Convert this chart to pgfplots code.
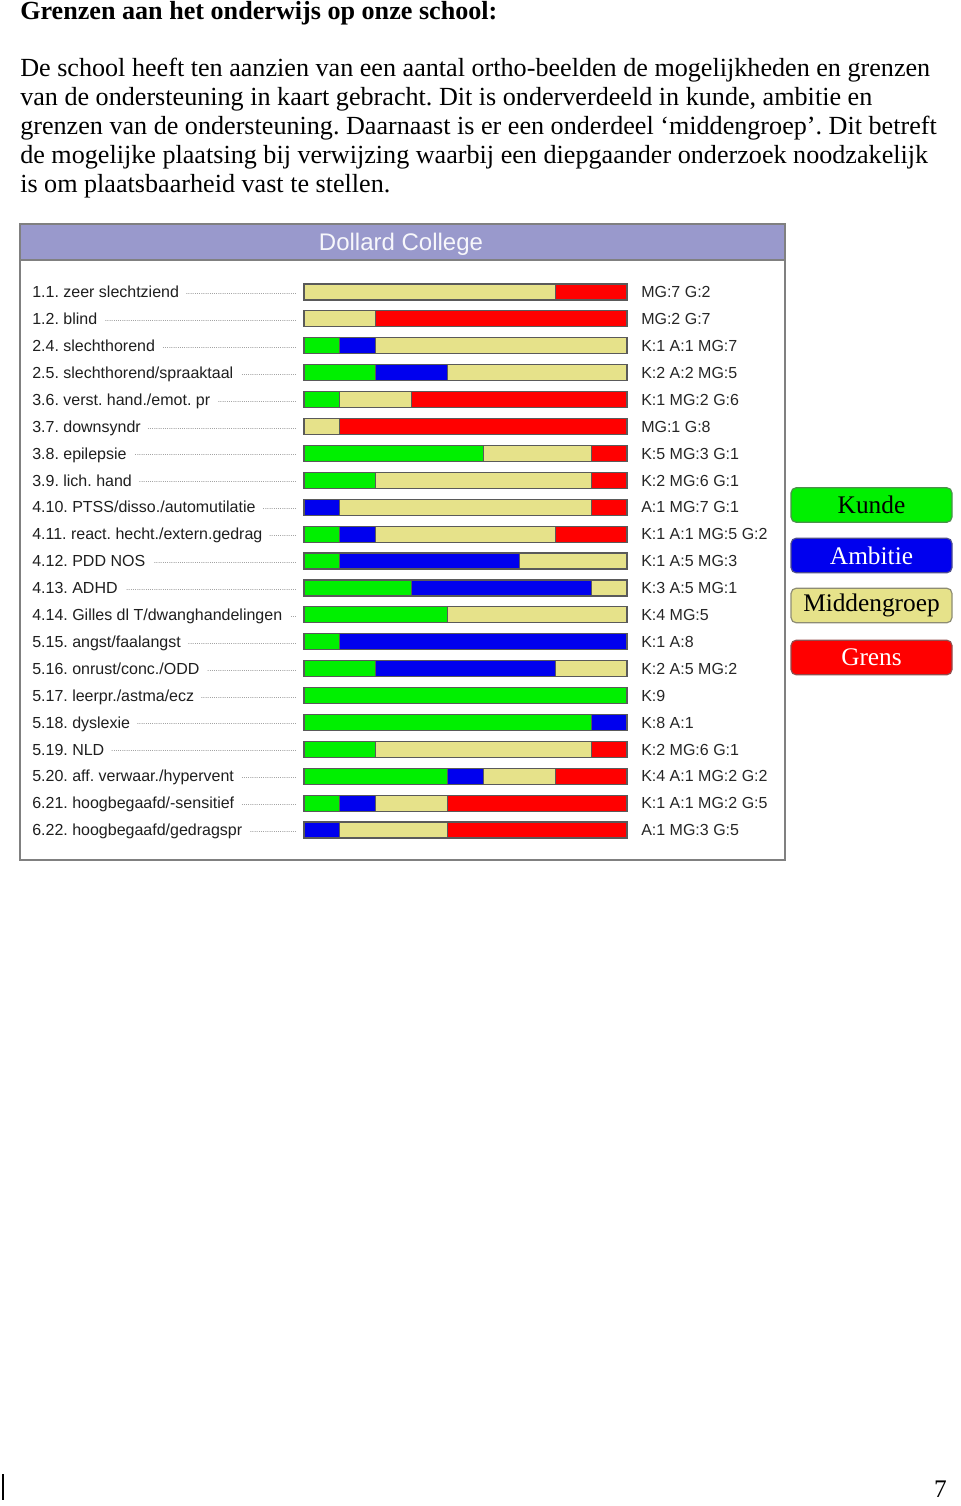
\documentclass[border=0pt]{standalone}
\usepackage{fontspec}
\setmainfont{Liberation Serif}
\newfontfamily\arial{Liberation Sans}
\usepackage{pgfplots}
\pgfplotsset{compat=1.18}
\usepackage{pgfplotstable}
\frenchspacing

\definecolor{kunde}{RGB}{0,240,0}
\definecolor{ambitie}{RGB}{0,0,238}
\definecolor{midden}{RGB}{230,226,138}
\definecolor{grens}{RGB}{255,0,0}
\definecolor{outl}{RGB}{90,90,90}
\definecolor{titlebar}{RGB}{153,153,204}
\definecolor{framec}{RGB}{128,128,128}

\pgfplotstableread{
row K A MG G
0  0 0 7 2
1  0 0 2 7
2  1 1 7 0
3  2 2 5 0
4  1 0 2 6
5  0 0 1 8
6  5 0 3 1
7  2 0 6 1
8  0 1 7 1
9  1 1 5 2
10 1 5 3 0
11 3 5 1 0
12 4 0 5 0
13 1 8 0 0
14 2 5 2 0
15 9 0 0 0
16 8 1 0 0
17 2 0 6 1
18 4 1 2 2
19 1 1 2 5
20 0 1 3 5
}\data

\newcommand{\lbl}[1]{\hbox to 199.5pt{#1\hskip 5pt\leaders\hbox to 1.6pt{\hss\raisebox{2.4pt}{\color{black!55}\fontsize{6}{6}\selectfont.}\hss}\hfill}}

\begin{document}
\begin{tikzpicture}[x=0.75pt,y=-0.75pt]
\useasboundingbox (0,0) rectangle (960,1506);

% heading and paragraph
\node[anchor=base west, inner sep=0pt, font=\fontsize{19.6}{22}\selectfont\bfseries] at (20,19) {Grenzen aan het onderwijs op onze school:};
\begin{scope}[every node/.style={anchor=base west, inner sep=0pt, font=\fontsize{19.6}{22}\selectfont}]
\node at (20,76) {De school heeft ten aanzien van een aantal ortho-beelden de mogelijkheden en grenzen};
\node at (20,105) {van de ondersteuning in kaart gebracht. Dit is onderverdeeld in kunde, ambitie en};
\node at (20,134) {grenzen van de ondersteuning. Daarnaast is er een onderdeel ‘middengroep’. Dit betreft};
\node at (20,163) {de mogelijke plaatsing bij verwijzing waarbij een diepgaander onderzoek noodzakelijk};
\node at (20,192) {is om plaatsbaarheid vast te stellen.};
\end{scope}

% chart frame
\fill[white] (20,224) rectangle (785,860);
\fill[titlebar] (20,224) rectangle (785,260);
\draw[framec, line width=1.2pt] (20,260) -- (785,260);
\draw[framec, line width=1.5pt] (20,224) rectangle (785,860);
\node[font=\arial\fontsize{18}{20}\selectfont, text=white!92!titlebar, inner sep=0pt] at (401,244) {Dollard College};

\coordinate (A) at (304,278.5);

\begin{axis}[
  at={(A)}, anchor=north west,
  scale only axis, width=242.25pt, height=423.75pt,
  xmin=0, xmax=9, ymin=-0.5, ymax=20.5, y dir=reverse,
  xbar stacked, bar width=12pt,
  axis line style={draw=none}, xtick=\empty,
  ytick={0,...,20}, major tick length=0pt,
  yticklabels={
    \lbl{1.1. zeer slechtziend},
    \lbl{1.2. blind},
    \lbl{2.4. slechthorend},
    \lbl{2.5. slechthorend/spraaktaal},
    \lbl{3.6. verst. hand./emot. pr},
    \lbl{3.7. downsyndr},
    \lbl{3.8. epilepsie},
    \lbl{3.9. lich. hand},
    \lbl{4.10. PTSS/disso./automutilatie},
    \lbl{4.11. react. hecht./extern.gedrag},
    \lbl{4.12. PDD NOS},
    \lbl{4.13. ADHD},
    \lbl{4.14. Gilles dl T/dwanghandelingen},
    \lbl{5.15. angst/faalangst},
    \lbl{5.16. onrust/conc./ODD},
    \lbl{5.17. leerpr./astma/ecz},
    \lbl{5.18. dyslexie},
    \lbl{5.19. NLD},
    \lbl{5.20. aff. verwaar./hypervent},
    \lbl{6.21. hoogbegaafd/-sensitief},
    \lbl{6.22. hoogbegaafd/gedragspr}},
  yticklabel style={anchor=west, inner sep=0pt, xshift=-204pt,
    font=\arial\fontsize{12}{14}\selectfont, text=black!88, text height=8.6pt, text depth=0pt},
  clip=false,
]
\addplot[fill=kunde, draw=outl, line width=0.9pt] table[x=K, y=row]{\data};
\addplot[fill=ambitie, draw=outl, line width=0.9pt] table[x=A, y=row]{\data};
\addplot[fill=midden, draw=outl, line width=0.9pt] table[x=MG, y=row]{\data};
\addplot[fill=grens, draw=outl, line width=0.9pt] table[x=G, y=row]{\data};
\end{axis}

\begin{axis}[
  at={(A)}, anchor=north west,
  scale only axis, width=242.25pt, height=423.75pt,
  xmin=0, xmax=9, ymin=-0.5, ymax=20.5, y dir=reverse,
  axis line style={draw=none}, xtick=\empty,
  ytick={0,...,20}, major tick length=0pt, yticklabel pos=right,
  yticklabels={MG:7 G:2, MG:2 G:7, K:1 A:1 MG:7, K:2 A:2 MG:5, K:1 MG:2 G:6,
    MG:1 G:8, K:5 MG:3 G:1, K:2 MG:6 G:1, A:1 MG:7 G:1, K:1 A:1 MG:5 G:2,
    K:1 A:5 MG:3, K:3 A:5 MG:1, K:4 MG:5, K:1 A:8, K:2 A:5 MG:2, K:9,
    K:8 A:1, K:2 MG:6 G:1, K:4 A:1 MG:2 G:2, K:1 A:1 MG:2 G:5, A:1 MG:3 G:5},
  yticklabel style={anchor=west, inner sep=0pt, xshift=10.5pt,
    font=\arial\fontsize{12}{14}\selectfont, text=black!85, text height=8.6pt, text depth=0pt},
]
\end{axis}

% legend boxes
\begin{scope}[every node/.style={rounded corners=4pt, line width=0.9pt, minimum width=120.75pt, minimum height=26pt, inner sep=0pt, font=\fontsize{19}{21}\selectfont}]
\node[fill=kunde, draw=kunde!40!black!70, text=black] at (871.5,505) {Kunde};
\node[fill=ambitie, draw=ambitie!40!black!70, text=white] at (871.5,555.5) {Ambitie};
\node[fill=midden, draw=midden!40!black!70, text=black] at (871.5,605.5) {Middengroep};
\node[fill=grens, draw=grens!40!black!70, text=white] at (871.5,657.5) {Grens};
\end{scope}

% page footer
\draw[black, line width=0.8pt] (3,1474) -- (3,1500);
\node[anchor=base east, inner sep=0pt, font=\fontsize{19}{21}\selectfont] at (947,1497) {7};
\end{tikzpicture}
\end{document}
